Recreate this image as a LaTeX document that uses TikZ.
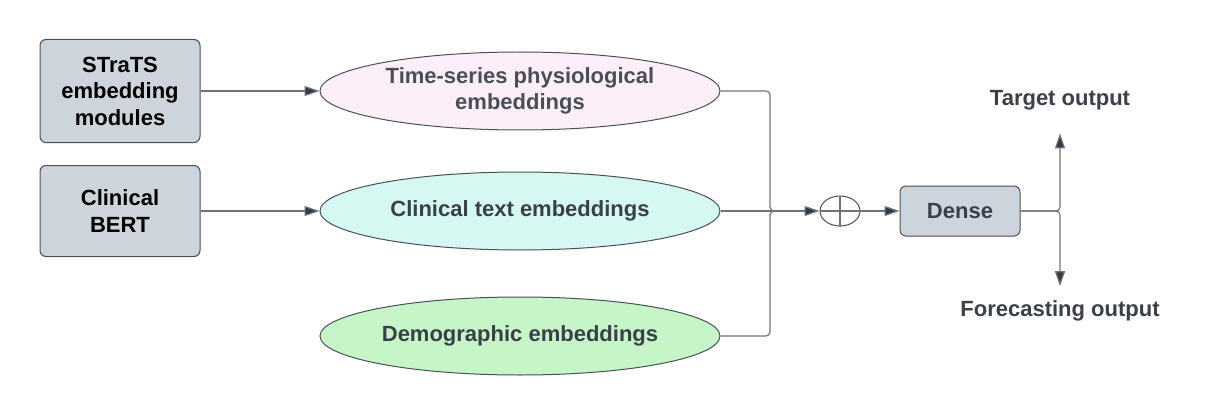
\documentclass[tikz,border=0pt]{standalone}
\usepackage{fontspec}
\setmainfont{Liberation Sans}
\usetikzlibrary{shapes.geometric,arrows.meta,positioning,calc}
\definecolor{boxgray}{HTML}{CED4DB}
\definecolor{edgegray}{HTML}{4A4F57}
\definecolor{linegray}{HTML}{6E737B}
\definecolor{textdark}{HTML}{3A4049}
\definecolor{tipdark}{HTML}{343A43}
\definecolor{pinkfill}{HTML}{FDEFFA}
\definecolor{cyanfill}{HTML}{D6F8F3}
\definecolor{greenfill}{HTML}{C6F5C7}
\tikzstyle{module} = [draw=edgegray,fill=boxgray,rounded corners=6pt,line width=1pt,minimum width=160pt,align=center,text=black]
\tikzstyle{embed} = [ellipse,draw=edgegray,line width=1pt,minimum width=400pt,minimum height=78pt,inner sep=0pt,align=center,text=textdark]
\tikzstyle{conn} = [draw=linegray,line width=1.2pt]
\tikzstyle{arr} = [conn,-{Triangle[length=15pt,width=10pt,fill=tipdark]}]
\tikzset{every node/.style={font=\fontsize{22}{26.5}\selectfont\bfseries}}

\begin{document}
\begin{tikzpicture}[x=1pt,y=-1pt]
    \useasboundingbox (0,0) rectangle (1220,417);

    \node [module,minimum height=103pt] (strats) at (120,91) {STraTS\\embedding\\modules};
    \node [module,minimum height=91pt] (bert) at (120,211) {Clinical\\BERT};

    \node [embed,fill=pinkfill,text=textdark!92] (ts) at (520,91) {Time-series physiological\\embeddings};
    \node [embed,fill=cyanfill] (txt) at (520,211) {Clinical text embeddings};
    \node [embed,fill=greenfill] (demo) at (520,336) {Demographic embeddings};

    \node [ellipse,draw=edgegray,line width=1pt,minimum width=40pt,minimum height=30pt,inner sep=0pt] (sum) at (840,211) {};
    \draw [conn] (sum.north) -- (sum.south) (sum.west) -- (sum.east);

    \node [module,minimum width=120pt,minimum height=50pt,text=textdark] (dense) at (960,211) {Dense};

    \node [text=textdark] (target) at (1060,100) {Target output};
    \node [text=textdark] (forecast) at (1060,311) {Forecasting output};

    \draw [arr] (strats) -- (ts);
    \draw [arr] (bert) -- (txt);

    \coordinate (join) at (775,211);
    \draw [conn,rounded corners=4pt] (ts.east) -| (770,211) -- (join);
    \draw [conn,rounded corners=4pt] (demo.east) -| (770,211) -- (join);
    \draw [arr] (txt) -- (sum);
    \draw [arr] (sum) -- (dense);

    \draw [arr,rounded corners=4pt,shorten >=20pt] (dense.east) -| (target.south);
    \draw [arr,rounded corners=4pt,shorten >=11pt] (dense.east) -| (forecast.north);
\end{tikzpicture}
\end{document}
